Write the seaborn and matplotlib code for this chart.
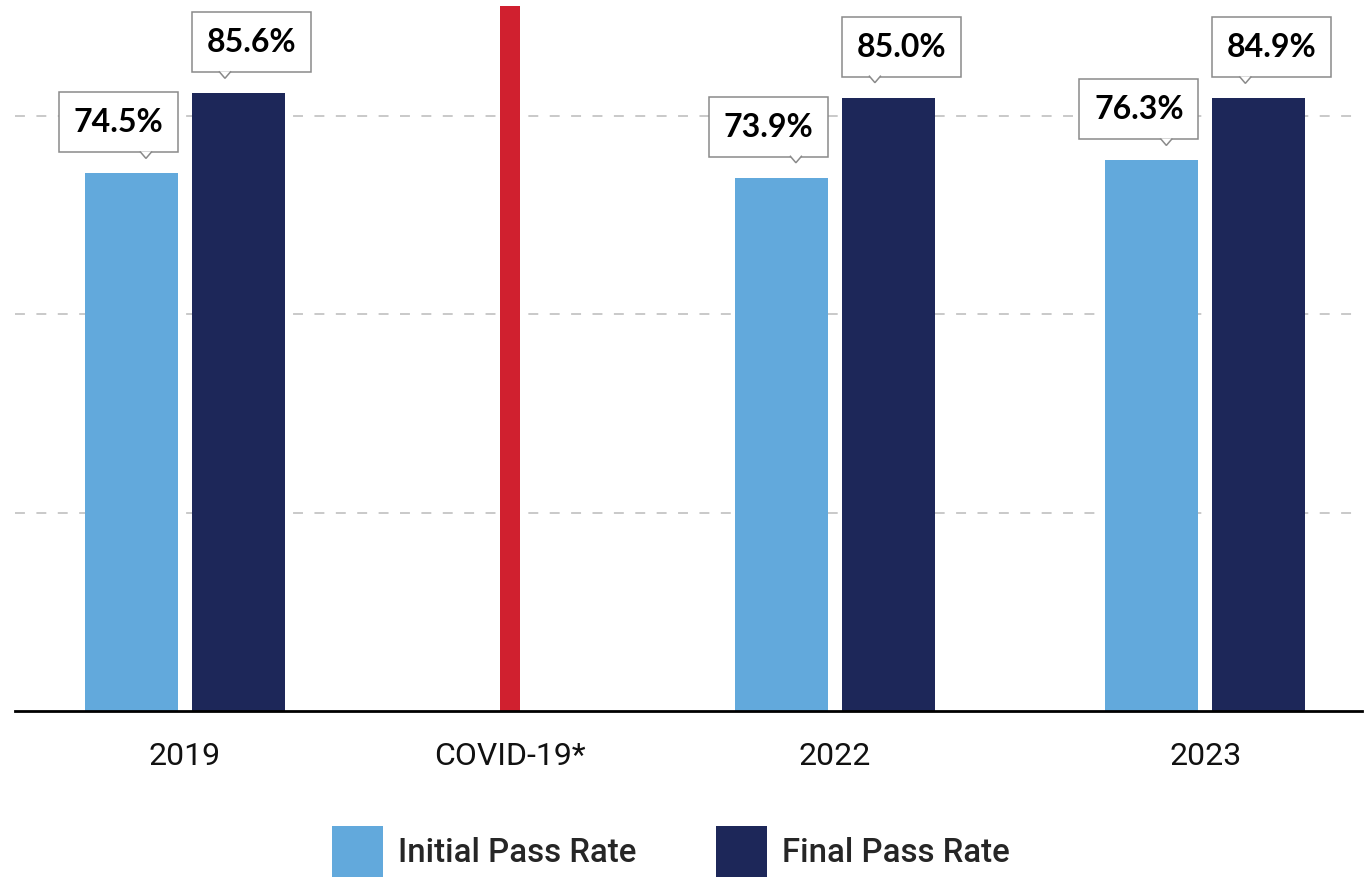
import numpy as np
import pandas as pd
import seaborn as sns
import matplotlib.pyplot as plt
from matplotlib.patches import Rectangle, Polygon, Patch
from matplotlib.transforms import IdentityTransform, ScaledTranslation

# data
categories = ["2019", "COVID-19*", "2022", "2023"]
initial_rate = [74.5, None, 73.9, 76.3]
final_rate = [85.6, None, 85.0, 84.9]
series = ["Initial Pass Rate", "Final Pass Rate"]

# layout / style
slot_pos = [0, 1, 2, 3.14]
grid_vals = [27.5, 55, 82.5]
light_blue = "#62a9dc"
navy = "#1d2759"
covid_red = "#d0202f"

sns.set_style("white")
plt.rcParams["font.family"] = ["Roboto", "DejaVu Sans"]

rows = []
for pos, a, b in zip(slot_pos, initial_rate, final_rate):
    if a is not None:
        rows.append({"pos": pos, "rate": a, "series": series[0]})
        rows.append({"pos": pos, "rate": b, "series": series[1]})
df = pd.DataFrame(rows)

fig = plt.figure(figsize=(13.69, 8.77), dpi=100)
ax = fig.add_axes([15 / 1369, 1 - 711 / 877, 1347 / 1369, 705 / 877])

# group width of 214 px on a 325 px slot, scaled to seaborn's native width
native = np.diff(np.unique(df["pos"])).min()
sns.barplot(data=df, x="pos", y="rate", hue="series", hue_order=series,
            native_scale=True, palette=[light_blue, navy], saturation=1,
            width=(214 / 325) / native, gap=0.131, linewidth=0,
            legend=False, ax=ax)

ax.set_ylim(0, 97.7)
ax.set_xlim(-0.523, 3.622)
ax.set_xticks(slot_pos)
ax.set_xticklabels(categories, fontsize=23, color="#111111")
ax.set_yticks(grid_vals)
ax.set_yticklabels([])
ax.tick_params(axis="both", length=0)
ax.tick_params(axis="x", pad=22)
ax.set_xlabel("")
ax.set_ylabel("")
ax.yaxis.grid(True, color="#bbbbbb", linewidth=1.1, linestyle=(0, (6.5, 7.5)))
ax.set_axisbelow(True)
for s in ["left", "right", "top"]:
    ax.spines[s].set_visible(False)
ax.spines["bottom"].set_linewidth(2.0)
ax.spines["bottom"].set_color("black")
ax.spines["bottom"].set_zorder(4)

# covid marker bar
ax.axvline(slot_pos[categories.index("COVID-19*")], color=covid_red,
           linewidth=14.4, solid_capstyle="butt", zorder=3)


def px_at(x, y):
    return IdentityTransform() + ScaledTranslation(x, y, ax.transData)


# callout labels
for cont, side in zip(ax.containers, ["initial", "final"]):
    for bar in cont:
        h = bar.get_height()
        if np.isnan(h):
            continue
        if side == "initial":
            t = px_at(bar.get_x() + bar.get_width(), h)
            x0, tip = -119, -32
        else:
            t = px_at(bar.get_x(), h)
            x0, tip = 0, 33
        ax.add_patch(Rectangle((x0, 21), 119, 60, transform=t, facecolor="white",
                               edgecolor="#8a8a8a", linewidth=1.1, zorder=5, clip_on=False))
        ax.add_patch(Polygon([(tip - 6, 22), (tip, 15), (tip + 6, 22)], closed=False,
                             transform=t, facecolor="white", edgecolor="#8a8a8a",
                             linewidth=1.1, zorder=6, clip_on=False))
        ax.text(x0 + 59.5, 41, f"{h:.1f}%", transform=t, ha="center", va="baseline",
                fontsize=23, fontweight="bold", family=["Lato", "DejaVu Sans"],
                color="black", zorder=7, clip_on=False)

handles = [Patch(facecolor=light_blue, edgecolor="none"),
           Patch(facecolor=navy, edgecolor="none")]
fig.legend(handles, series, loc="lower left", bbox_to_anchor=(332 / 1369, 0),
           ncol=2, frameon=False, prop={"family": "Roboto", "weight": "medium", "size": 23.8},
           handlelength=1.55, handleheight=2.0, handletextpad=0.45,
           columnspacing=2.4, borderpad=0, borderaxespad=0)

fig.savefig("out.png", dpi=100)
